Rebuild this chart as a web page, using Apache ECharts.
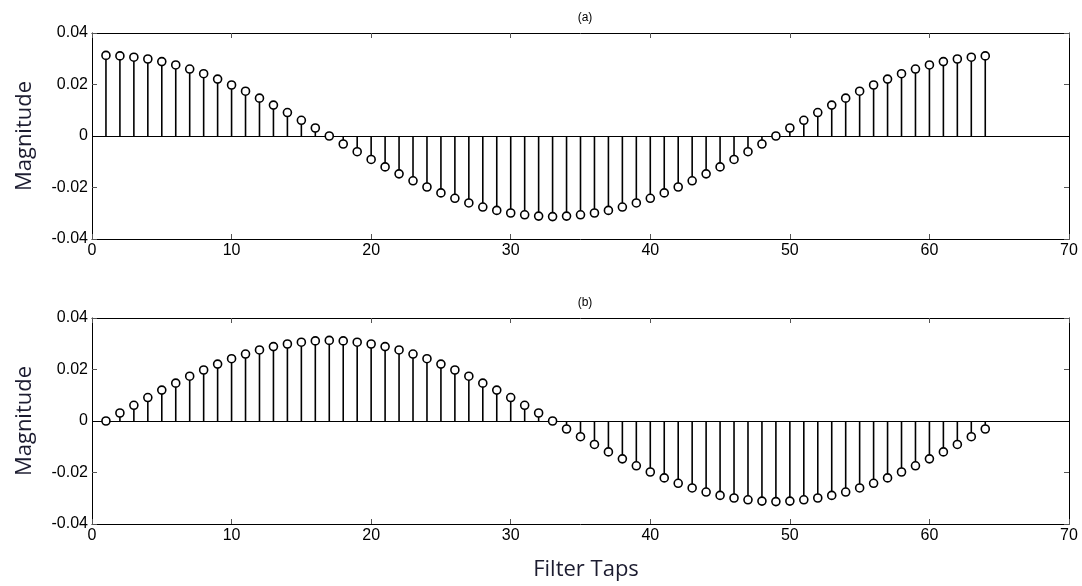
<!DOCTYPE html>
<html>
<head>
    <meta charset="utf-8">
    <script src="https://cdn.jsdelivr.net/npm/echarts@6/dist/echarts.min.js"></script>
</head>
<body style="margin:0">
    <div id="main" style="width: 1082px;height:586px;"></div>
    <script type="text/javascript">

// filter taps 1..64
var taps = [];
for (var i = 1; i <= 64; i++) taps.push(i);

// (a) tap magnitudes
var mag_a = [
    0.0313, 0.0311, 0.0306, 0.0299, 0.0289, 0.0276, 0.0260, 0.0242, 0.0221, 0.0198, 0.0174, 0.0147, 0.0120, 0.0091, 0.0061, 0.0031, 0,
    -0.0031, -0.0061, -0.0091, -0.0120, -0.0147, -0.0174, -0.0198, -0.0221, -0.0242, -0.0260, -0.0276, -0.0289, -0.0299, -0.0306, -0.0311, -0.0313,
    -0.0311, -0.0306, -0.0299, -0.0289, -0.0276, -0.0260, -0.0242, -0.0221, -0.0198, -0.0174, -0.0147, -0.0120, -0.0091, -0.0061, -0.0031, 0,
    0.0031, 0.0061, 0.0091, 0.0120, 0.0147, 0.0174, 0.0198, 0.0221, 0.0242, 0.0260, 0.0276, 0.0289, 0.0299, 0.0306, 0.0311
];

// (b) tap magnitudes
var mag_b = [
    0, 0.0031, 0.0061, 0.0091, 0.0120, 0.0147, 0.0174, 0.0198, 0.0221, 0.0242, 0.0260, 0.0276, 0.0289, 0.0299, 0.0306, 0.0311, 0.0313,
    0.0311, 0.0306, 0.0299, 0.0289, 0.0276, 0.0260, 0.0242, 0.0221, 0.0198, 0.0174, 0.0147, 0.0120, 0.0091, 0.0061, 0.0031, 0,
    -0.0031, -0.0061, -0.0091, -0.0120, -0.0147, -0.0174, -0.0198, -0.0221, -0.0242, -0.0260, -0.0276, -0.0289, -0.0299, -0.0306, -0.0311, -0.0313,
    -0.0311, -0.0306, -0.0299, -0.0289, -0.0276, -0.0260, -0.0242, -0.0221, -0.0198, -0.0174, -0.0147, -0.0120, -0.0091, -0.0061, -0.0031
];

var xTicks = [0, 10, 20, 30, 40, 50, 60, 70];
var yTicks = [-0.04, -0.02, 0, 0.02, 0.04];

var labelFont = 'Liberation Sans';

function pairs(vals) {
    var out = [];
    for (var i = 0; i < taps.length; i++) out.push([taps[i], vals[i]]);
    return out;
}

function xAxisFor(g, pos, showLabel) {
    return {
        type: 'value', gridIndex: g, position: pos,
        min: xTicks[0], max: xTicks[xTicks.length - 1], interval: 10,
        axisLine: { show: true, onZero: false, lineStyle: { color: '#000', width: 1 } },
        axisTick: { show: true, inside: true, length: 5, lineStyle: { color: '#555' } },
        axisLabel: { show: showLabel, color: '#000', fontSize: 16, fontFamily: labelFont, margin: 4 },
        splitLine: { show: false }
    };
}

function yAxisFor(g, pos, showLabel) {
    var ax = {
        type: 'value', gridIndex: g, position: pos,
        min: yTicks[0], max: yTicks[yTicks.length - 1], interval: 0.02,
        axisLine: { show: true, onZero: false, lineStyle: { color: '#000', width: 1 } },
        axisTick: { show: true, inside: true, length: 5, lineStyle: { color: '#555' } },
        axisLabel: {
            show: showLabel, color: '#000', fontSize: 16, fontFamily: labelFont, margin: 4,
            formatter: function (v) { return Math.abs(v) < 1e-9 ? '0' : v.toFixed(2); }
        },
        splitLine: { show: false }
    };
    if (showLabel) {
        ax.name = 'Magnitude';
        ax.nameLocation = 'middle';
        ax.nameRotate = 90;
        ax.nameGap = 56;
        ax.nameTextStyle = { fontSize: 22, fontFamily: 'Open Sans', color: '#1c1c30' };
    }
    return ax;
}

function stems(g, vals) {
    return [{
        type: 'bar', xAxisIndex: g * 2, yAxisIndex: g * 2,
        barWidth: 1.6,
        itemStyle: { color: '#000' },
        data: pairs(vals),
        silent: true,
        markLine: {
            silent: true, symbol: 'none', label: { show: false },
            lineStyle: { color: '#000', width: 1, type: 'solid' },
            data: [{ yAxis: 0 }]
        }
    }, {
        type: 'scatter', xAxisIndex: g * 2, yAxisIndex: g * 2,
        symbol: 'circle', symbolSize: 8,
        itemStyle: { color: '#fff', borderColor: '#000', borderWidth: 1.6, opacity: 1 },
        data: pairs(vals),
        z: 5
    }];
}

var option = {
    animation: false,
    backgroundColor: '#fff',
    title: [
        { text: '(a)', left: 580, top: 7, textAlign: 'center', textStyle: { fontSize: 12, fontWeight: 'normal', fontFamily: labelFont, color: '#000' } },
        { text: '(b)', left: 580, top: 292, textAlign: 'center', textStyle: { fontSize: 12, fontWeight: 'normal', fontFamily: labelFont, color: '#000' } },
        { text: 'Filter Taps', left: 581, top: 554, textAlign: 'center', textStyle: { fontSize: 22, fontWeight: 'normal', fontFamily: 'Open Sans', color: '#1c1c30' } }
    ],
    grid: [
        { left: 92, right: 13, top: 33, height: 206 },
        { left: 92, right: 13, top: 318, height: 206 }
    ],
    xAxis: [
        xAxisFor(0, 'bottom', true), xAxisFor(0, 'top', false),
        xAxisFor(1, 'bottom', true), xAxisFor(1, 'top', false)
    ],
    yAxis: [
        yAxisFor(0, 'left', true), yAxisFor(0, 'right', false),
        yAxisFor(1, 'left', true), yAxisFor(1, 'right', false)
    ],
    series: stems(0, mag_a).concat(stems(1, mag_b))
};

var myChart = echarts.init(document.getElementById('main'));
myChart.setOption(option);

    </script>
</body>
</html>
